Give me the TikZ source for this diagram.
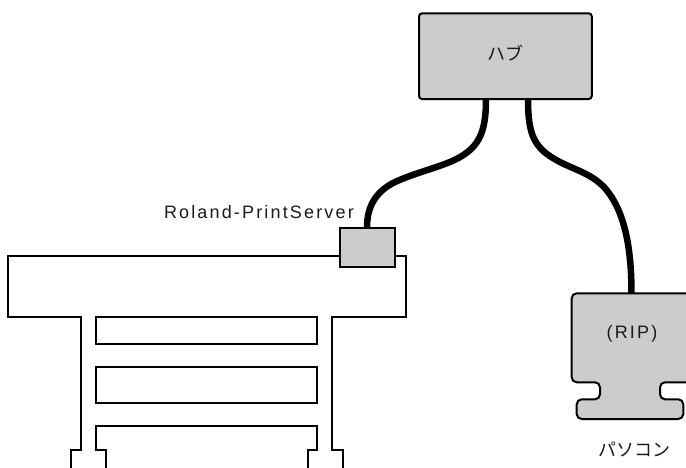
\documentclass[tikz,border=0pt]{standalone}
\usepackage{fontspec}
\setmainfont[LetterSpace=12]{Liberation Sans}
\newfontfamily\jpfont{Noto Sans CJK JP}
\definecolor{boxgray}{HTML}{CCCCCC}
\definecolor{inkgray}{HTML}{1A1A1A}
\tikzset{
  outline/.style={draw=black,line width=2pt,line join=miter},
  grayshape/.style={draw=black,line width=2pt,fill=boxgray},
  cable/.style={draw=black,line width=6.5pt},
  caption/.style={text=inkgray,font=\fontsize{18}{21}\selectfont,inner sep=0pt},
  jpcaption/.style={text=inkgray,font=\fontsize{18}{21}\jpfont,inner sep=0pt}
}
\begin{document}
\begin{tikzpicture}[x=1pt,y=-1pt]
\useasboundingbox (0,0) rectangle (686,468);
% printer
\draw[outline,fill=white] (8.3,255.7) -- (406,255.7) -- (406,316.7) -- (332,316.7) -- (332,450) -- (342.7,450) -- (342.7,472) -- (308,472) -- (308,450) -- (317,450) -- (317,425.7) -- (96,425.7) -- (96,450) -- (106,450) -- (106,472) -- (71.3,472) -- (71.3,450) -- (81.3,450) -- (81.3,316.7) -- (8.3,316.7) -- cycle;
\draw[outline] (96,316.7) rectangle (317,344);
\draw[outline] (96,366.7) rectangle (317,402.7);
% named shapes
\node[grayshape,rounded corners=3pt,minimum width=172.7pt,minimum height=85.7pt,inner sep=0pt] (hub) at (505.4,56.2) {};
\node[jpcaption] (hublabel) at (505.7,53) {ハブ};
\node[grayshape,minimum width=55.3pt,minimum height=39.6pt,inner sep=0pt] (server) at (367.4,247.5) {};
\node[caption,anchor=east] (serverlabel) at (354,212) {Roland-PrintServer};
\draw[grayshape,rounded corners=5pt] (571.7,293.3) -- (692,293.3) -- (692,382.3) -- (660,382.3) -- (660,399.3) -- (683.3,399.3) -- (683.3,419) -- (576.7,419) -- (576.7,399.3) -- (600,399.3) -- (600,382.3) -- (571.7,382.3) -- cycle;
\coordinate (pctop) at (631.5,293.3);
\coordinate (hubleft) at (486,99);
\coordinate (hubright) at (528,99);
\coordinate (servertop) at (367,227.7);
\node[caption] (riplabel) at (632,334) {(RIP)};
\node[jpcaption] (pclabel) at (634,449.5) {パソコン};
% cables
\draw[cable] (hubleft) .. controls (486,135) and (478,150) .. (450,162) .. controls (430,170) and (415,173) .. (395,182) .. controls (375,192) and (367,207) .. (servertop);
\draw[cable] (hubright) .. controls (528,135) and (534,148) .. (558,161) .. controls (575,170) and (590,173) .. (604,187) .. controls (622,207) and (631.5,240) .. (pctop);
\end{tikzpicture}
\end{document}
